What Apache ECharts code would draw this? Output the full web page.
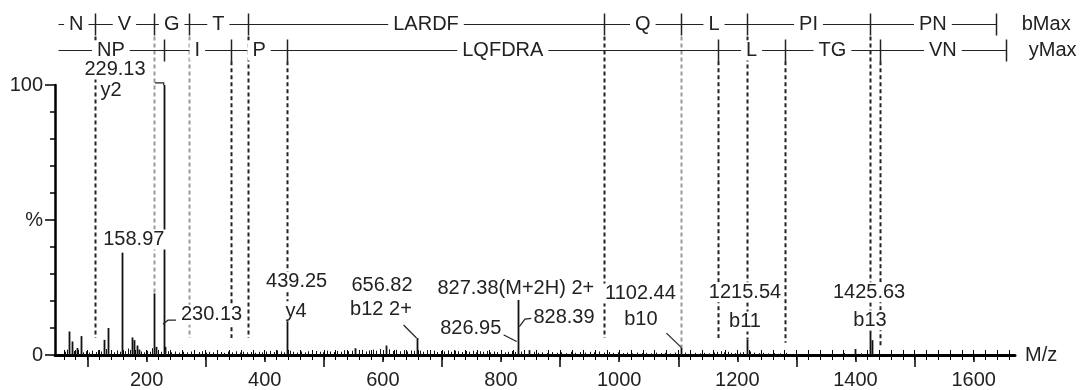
<!DOCTYPE html>
<html>
<head>
<meta charset="utf-8">
<script src="https://cdn.jsdelivr.net/npm/echarts@6/dist/echarts.min.js"></script>
<style>
  html, body { margin: 0; padding: 0; background: #fff; }
  #chart { width: 1091px; height: 390px; }
</style>
</head>
<body>
<div id="chart"></div>
<script>
// main fragment peaks (m/z, relative intensity %)
var peakMz  = [69, 73, 81.5, 88.5, 128.5, 135, 159, 176, 179, 183, 187.5, 213, 216, 229, 231, 437, 553, 606, 657, 828, 848, 1105, 1216, 1399, 1424, 1428];
var peakInt = [8.7, 5, 2.6, 7, 5.6, 10, 37.9, 6.5, 5.5, 3.5, 2, 22.8, 3, 100, 3, 12.7, 2.5, 3.5, 6.3, 20.4, 1.8, 2.8, 5.7, 2.2, 7.8, 5.5];

// low level background peaks
var noiseMz = [62, 66, 77, 84, 92, 97, 103, 108, 114, 118, 123, 131, 140, 145, 150, 155, 163, 168, 172, 191, 196, 201, 206, 209, 219, 224,
  236, 242, 248, 255, 262, 268, 275, 281, 288, 294, 300, 306, 313, 319, 326, 331, 338, 345, 352, 358, 364, 370, 377, 383, 390, 396,
  403, 409, 415, 421, 427, 432, 442, 448, 455, 461, 468, 474, 480, 487, 493, 499, 505, 511, 517, 523, 529, 535, 541, 547, 559, 565,
  571, 577, 583, 589, 595, 600, 611, 617, 623, 629, 635, 641, 647, 652, 662, 668, 674, 680, 686, 692, 698, 704, 710, 716, 722, 728,
  734, 740, 746, 752, 758, 764, 770, 776, 782, 788, 794, 800, 806, 812, 818, 823, 833, 839, 855, 862, 870, 878, 886, 894, 902, 910,
  918, 926, 934, 942, 950, 958, 966, 974, 982, 990, 998, 1006, 1014, 1022, 1030, 1038, 1046, 1054, 1062, 1070, 1078, 1086, 1094, 1100,
  1112, 1120, 1128, 1136, 1144, 1152, 1160, 1166, 1172, 1178, 1184, 1190, 1196, 1204, 1210, 1222, 1228, 1236, 1244, 1252, 1262, 1272,
  1282, 1300, 1320, 1340, 1360, 1380, 1410, 1440, 1460];
var noiseInt = [1.2, 2.0, 1.5, 1.8, 1.0, 1.4, 0.9, 1.6, 1.1, 1.8, 1.3, 2.2, 1.5, 1.0, 1.7, 1.2, 1.4, 2.4, 1.9, 1.3, 1.0, 1.6, 1.2, 2.5, 1.8, 1.2,
  1.4, 1.0, 1.3, 0.9, 1.2, 1.0, 1.3, 0.8, 1.1, 1.4, 0.9, 1.2, 1.0, 1.5, 1.1, 0.8, 1.3, 1.0, 1.4, 0.9, 1.2, 1.0, 1.1, 0.8, 1.2, 1.0,
  1.3, 1.5, 1.1, 1.7, 1.3, 1.0, 1.6, 1.2, 0.9, 1.3, 1.0, 1.4, 1.1, 1.5, 1.2, 1.0, 1.6, 1.3, 1.1, 1.5, 1.2, 1.8, 1.4, 1.6, 1.5, 1.9,
  1.3, 1.7, 2.0, 1.6, 2.2, 1.8, 2.1, 1.5, 1.9, 1.4, 1.8, 1.3, 1.7, 1.5, 1.6, 1.2, 1.8, 1.4, 1.6, 1.1, 1.5, 1.3, 1.7, 1.2, 1.6, 1.4,
  1.1, 1.5, 1.2, 1.6, 1.0, 1.4, 1.2, 1.5, 1.0, 1.3, 1.1, 1.4, 1.0, 1.2, 1.5, 1.1, 1.3, 1.0, 1.2, 0.8, 1.0, 0.7, 1.1, 0.8, 1.0, 0.7,
  1.2, 0.8, 1.1, 0.9, 1.2, 1.0, 1.3, 0.9, 1.1, 0.8, 1.0, 0.7, 0.9, 0.6, 0.9, 0.7, 0.8, 0.6, 0.9, 0.7, 0.8, 0.6, 0.9, 1.2,
  0.9, 0.6, 0.8, 0.6, 0.8, 0.6, 0.9, 1.2, 1.4, 1.0, 1.2, 0.8, 0.7, 0.9, 1.1, 1.3, 0.9, 0.7, 0.8, 0.6, 0.7, 0.6,
  0.8, 0.6, 0.5, 0.6, 0.5, 0.7, 0.6, 0.6, 0.5];

// sequence ladders: first value is the row start, the rest are ion ticks
var bTicks  = [50, 112, 213, 272, 371, 975, 1105, 1216, 1425, 1637];
var bLabels = ['N', 'V', 'G', 'T', 'LARDF', 'Q', 'L', 'PI', 'PN'];
var yTicks  = [50, 229, 343, 438, 1168, 1280, 1442, 1654];
var yLabels = ['NP', 'I', 'P', 'LQFDRA', 'L', 'TG', 'VN'];

// dotted ion markers: m/z, ladder they drop from, intensity where they stop
var dotMz   = [112, 213, 272, 343, 371, 438, 975, 1105, 1168, 1216, 1280, 1425, 1442];
var dotFrom = ['b', 'b', 'b', 'y', 'b', 'y', 'b', 'b', 'y', 'b', 'y', 'b', 'y'];
var dotEnd  = [6.3, 22.8, 6.3, 6.3, 6.3, 12.7, 6.3, 3, 6.3, 5.7, 4.5, 7.8, 2.5];
var dotGrey = [false, true, true, false, false, false, false, true, false, false, false, false, false];

// peak annotations
var annTexts = ['229.13', 'y2', '158.97', '230.13', '439.25', 'y4', '656.82', 'b12 2+', '827.38(M+2H) 2+', '826.95', '828.39',
  '1102.44', 'b10', '1215.54', 'b11', '1425.63', 'b13'];

var xLabelValues = [200, 400, 600, 800, 1000, 1200, 1400, 1600];

// layout of annotations, in data units (m/z, %)
var annAnchor = [[146.6, 105.7], [139.8, 97.8], [178.4, 42.8], [310, 14.9], [454, 27.2], [453, 16.2], [598.5, 25.8], [596.8, 16.7],
  [825, 24.6], [748.8, 9.9], [906.6, 14], [1036, 22.8], [1036.8, 13], [1213, 23.2], [1213, 12.4], [1423, 23.2], [1424.5, 12.9]];
var leaders = [
  [[214, 100.8], [229, 100.8], [229, 100]],
  [[227.7, 11.4], [236.2, 12.9], [249.7, 12.9]],
  [[635, 11.1], [657, 6.3]],
  [[804, 7.5], [826.5, 5]],
  [[831, 10.5], [840.5, 13.3], [852, 13.6]],
  [[1080, 8.1], [1105, 2.8]]
];
var ladderRows = [
  { ticks: bTicks, labels: bLabels, pct: 122.7, name: 'bMax', nameMz: 1678 },
  { ticks: yTicks, labels: yLabels, pct: 113.0, name: 'yMax', nameMz: 1690 }
];

var FONT = 'Liberation Sans';
var INK = '#222';
var X_MIN = 45, X_MAX = 1670;

var oddHundreds = [], evenHundreds = [], twenties = [];
for (var v = 100; v <= 1600; v += 100) {
  if (v % 200) oddHundreds.push(v); else evenHundreds.push(v);
}
for (var t = 60; t <= 1660; t += 20) twenties.push(t);

function crisp(x) { return Math.round(x) + 0.5; }

function stickItem(width) {
  return function (params, api) {
    var base = api.coord([api.value(0), 0]);
    var top = api.coord([api.value(0), api.value(1)]);
    var x = crisp(base[0]);
    return {
      type: 'line',
      shape: { x1: x, y1: base[1], x2: x, y2: top[1] },
      style: { stroke: '#111', lineWidth: width }
    };
  };
}

function dotItem(params, api) {
  var i = params.dataIndex;
  var x = crisp(api.coord([dotMz[i], 0])[0]);
  var y1 = api.coord([0, dotFrom[i] === 'b' ? 118 : 108.8])[1];
  var y2 = api.coord([0, dotEnd[i]])[1];
  return {
    type: 'line',
    shape: { x1: x, y1: y1, x2: x, y2: y2 },
    style: { stroke: dotGrey[i] ? '#999' : '#222', lineWidth: 2, lineDash: [4, 3] }
  };
}

function textEl(x, y, text, align) {
  return {
    type: 'text',
    x: x, y: y,
    style: {
      text: text, fill: INK, fontSize: 20, fontFamily: FONT,
      align: align || 'center', verticalAlign: 'middle',
      backgroundColor: '#fff', padding: [0, 2]
    }
  };
}

function ladderItem(params, api) {
  var row = ladderRows[params.dataIndex];
  var y = Math.round(api.coord([0, row.pct])[1]) + 0.5;
  var ticks = row.ticks;
  var xs = ticks.map(function (m) { return crisp(api.coord([m, 0])[0]); });
  var children = [{
    type: 'line',
    shape: { x1: xs[0], y1: y, x2: xs[xs.length - 1], y2: y },
    style: { stroke: '#222', lineWidth: 1.2 }
  }];
  for (var i = 1; i < xs.length; i++) {
    children.push({
      type: 'line',
      shape: { x1: xs[i], y1: y - 11, x2: xs[i], y2: y + 11 },
      style: { stroke: '#222', lineWidth: 1.5 }
    });
  }
  for (var j = 0; j < row.labels.length; j++) {
    var mid = (api.coord([ticks[j], 0])[0] + api.coord([ticks[j + 1], 0])[0]) / 2;
    var el = textEl(mid, y, row.labels[j]);
    el.style.padding = [0, 5];
    children.push(el);
  }
  children.push(textEl(api.coord([row.nameMz, 0])[0], y, row.name, 'left'));
  return { type: 'group', children: children };
}

function leaderItem(params, api) {
  var pts = leaders[params.dataIndex].map(function (p) { return api.coord(p); });
  return {
    type: 'polyline',
    shape: { points: pts },
    style: { stroke: '#222', lineWidth: 1.2, fill: null }
  };
}

function annItem(params, api) {
  var i = params.dataIndex;
  var p = api.coord(annAnchor[i]);
  return textEl(p[0], p[1], annTexts[i]);
}

function xAxisBase(extra) {
  var a = {
    type: 'value', min: X_MIN, max: X_MAX, position: 'bottom', offset: 0,
    axisLine: { show: false },
    axisLabel: { show: false },
    splitLine: { show: false }
  };
  for (var k in extra) a[k] = extra[k];
  return a;
}

var chart = echarts.init(document.getElementById('chart'));
chart.setOption({
  animation: false,
  backgroundColor: '#fff',
  textStyle: { fontFamily: FONT },
  grid: { left: 55, right: 76, top: 85, bottom: 33 },
  xAxis: [
    xAxisBase({
      axisLine: { show: true, lineStyle: { color: '#000', width: 3 } },
      axisTick: { customValues: oddHundreds, length: 12, lineStyle: { color: '#000', width: 1.5 } },
      axisLabel: {
        customValues: xLabelValues, margin: 15, fontSize: 20, color: INK, fontFamily: FONT,
        formatter: function (val) { return String(val); }
      },
      name: 'M/z', nameLocation: 'end', nameGap: 10,
      nameTextStyle: { fontSize: 20, color: INK, fontFamily: FONT, verticalAlign: 'middle' }
    }),
    xAxisBase({ axisTick: { customValues: evenHundreds, length: 7, lineStyle: { color: '#000', width: 1.5 } } }),
    xAxisBase({ axisTick: { customValues: twenties, length: 5, lineStyle: { color: '#000', width: 1 } } }),
    xAxisBase({ axisTick: { customValues: twenties, length: 5, inside: true, lineStyle: { color: '#000', width: 1 } } })
  ],
  yAxis: [
    {
      type: 'value', min: 0, max: 100, interval: 50, position: 'left',
      axisLine: { show: true, lineStyle: { color: '#000', width: 2.5 } },
      axisTick: { length: 10, lineStyle: { color: '#000', width: 1.5 } },
      axisLabel: {
        margin: 12, fontSize: 20, color: INK, fontFamily: FONT,
        formatter: function (val) { return val === 50 ? '%' : String(val); }
      },
      splitLine: { show: false }
    },
    {
      type: 'value', min: 0, max: 100, interval: 10, position: 'left', offset: 0,
      axisLine: { show: false },
      axisTick: { length: 5, lineStyle: { color: '#000', width: 1.5 } },
      axisLabel: { show: false },
      splitLine: { show: false }
    }
  ],
  series: [
    {
      type: 'custom', z: 1, renderItem: dotItem,
      data: dotMz.map(function (m, i) { return [m, dotEnd[i]]; })
    },
    {
      type: 'custom', z: 2, renderItem: stickItem(1),
      data: noiseMz.map(function (m, i) { return [m, noiseInt[i]]; })
    },
    {
      type: 'custom', z: 3, renderItem: stickItem(1.8),
      data: peakMz.map(function (m, i) { return [m, peakInt[i]]; })
    },
    {
      type: 'custom', z: 4, renderItem: leaderItem,
      data: leaders.map(function (l) { return l[0]; })
    },
    {
      type: 'custom', z: 5, renderItem: annItem,
      data: annAnchor
    },
    {
      type: 'custom', z: 6, renderItem: ladderItem,
      data: ladderRows.map(function (r) { return [r.ticks[0], r.pct]; })
    }
  ]
});
</script>
</body>
</html>
